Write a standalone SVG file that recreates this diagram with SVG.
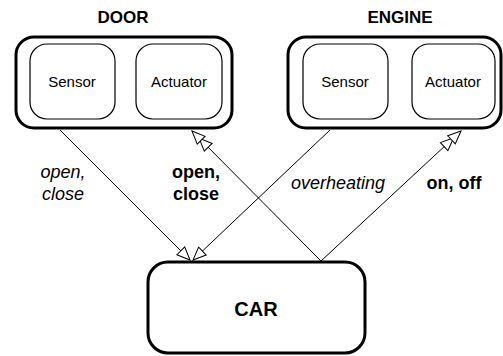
<svg xmlns="http://www.w3.org/2000/svg" width="503" height="356" viewBox="0 0 503 356">
  <style>
    .outer { fill: #fff; stroke: #000; stroke-width: 3; }
    .inner { fill: #fff; stroke: #000; stroke-width: 1.2; }
    .title { font-family: "Liberation Sans", Arial, sans-serif; font-weight: bold; font-size: 17px; text-anchor: middle; }
    .part { font-family: "Liberation Sans", Arial, sans-serif; font-size: 15px; text-anchor: middle; }
    .car { font-family: "Liberation Sans", Arial, sans-serif; font-weight: bold; font-size: 20px; text-anchor: middle; }
    .lbl { font-family: "Liberation Sans", Arial, sans-serif; font-size: 18px; text-anchor: middle; }
    .it { font-style: italic; }
    .bd { font-weight: bold; }
    .edge { fill: none; stroke: #000; stroke-width: 1; }
    .head { fill: #fff; stroke: #000; stroke-width: 1; }
  </style>
  <defs>
    <marker id="open" markerUnits="userSpaceOnUse" markerWidth="30" markerHeight="30" refX="0" refY="0" orient="auto" overflow="visible">
      <path class="head" d="M0,0 L-13,-5.5 L-13,5.5 Z"/>
    </marker>
    <marker id="open2" markerUnits="userSpaceOnUse" markerWidth="40" markerHeight="30" refX="0" refY="0" orient="auto" overflow="visible">
      <path class="head" d="M-10,0 L-23,-5.5 L-23,5.5 Z"/>
      <path class="head" d="M0,0 L-13,-5.5 L-13,5.5 Z"/>
    </marker>
  </defs>

  <!-- connectors -->
  <g id="connectors">
    <line class="edge" x1="60" y1="130" x2="190" y2="260" marker-end="url(#open)"/>
    <line class="edge" x1="330" y1="130" x2="193" y2="260" marker-end="url(#open)"/>
    <line class="edge" x1="321" y1="261" x2="192" y2="131" marker-end="url(#open2)"/>
    <line class="edge" x1="321" y1="261" x2="461" y2="131" marker-end="url(#open2)"/>
    <text class="lbl it" x="63" y="178">open,</text>
    <text class="lbl it" x="63" y="200">close</text>
    <text class="lbl bd" x="196" y="178">open,</text>
    <text class="lbl bd" x="196" y="200">close</text>
    <text class="lbl it" x="338" y="189">overheating</text>
    <text class="lbl bd" x="454" y="189">on, off</text>
  </g>

  <!-- DOOR -->
  <g id="door">
    <text class="title" x="123" y="23">DOOR</text>
    <rect class="outer" x="16" y="37" width="216" height="91" rx="18" ry="18"/>
    <g id="door-sensor">
      <rect class="inner" x="30" y="44" width="85" height="75" rx="17" ry="17"/>
      <text class="part" x="72" y="87">Sensor</text>
    </g>
    <g id="door-actuator">
      <rect class="inner" x="136" y="44" width="86" height="75" rx="17" ry="17"/>
      <text class="part" x="179" y="87">Actuator</text>
    </g>
  </g>

  <!-- ENGINE -->
  <g id="engine">
    <text class="title" x="400" y="23">ENGINE</text>
    <rect class="outer" x="288" y="37" width="213" height="91" rx="18" ry="18"/>
    <g id="engine-sensor">
      <rect class="inner" x="303" y="44" width="85" height="75" rx="17" ry="17"/>
      <text class="part" x="345" y="87">Sensor</text>
    </g>
    <g id="engine-actuator">
      <rect class="inner" x="412" y="44" width="83" height="75" rx="17" ry="17"/>
      <text class="part" x="453" y="87">Actuator</text>
    </g>
  </g>

  <!-- CAR -->
  <g id="car">
    <rect class="outer" x="148" y="262" width="217" height="91" rx="20" ry="20"/>
    <text class="car" x="256" y="316">CAR</text>
  </g>
</svg>
